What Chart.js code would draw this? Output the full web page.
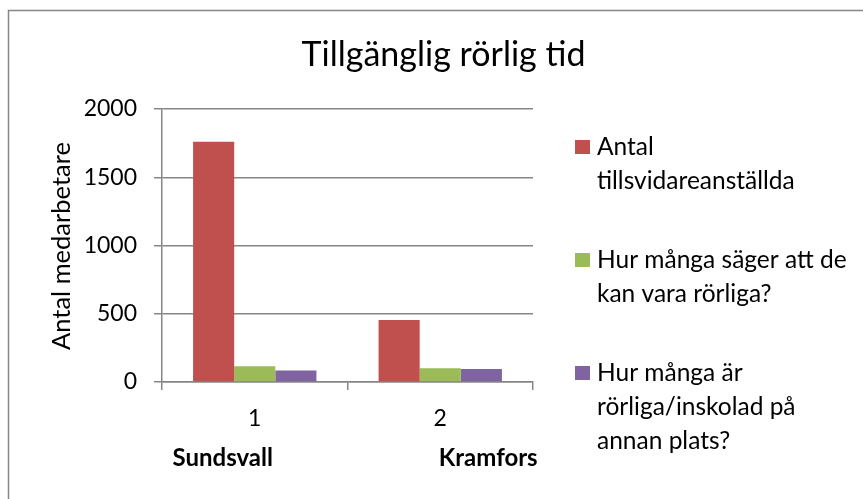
<!DOCTYPE html>
<html>
<head>
<meta charset="utf-8">
<script src="https://cdn.jsdelivr.net/npm/chart.js"></script>
<style>
  html, body { margin: 0; padding: 0; background: #fff; }
  #wrap { position: relative; width: 863px; height: 499px; }
</style>
</head>
<body>
<div id="wrap"><canvas id="chart"></canvas></div>
<script>
const chartTitle = 'Tillgänglig rörlig tid';
const axisTitle = 'Antal medarbetare';
const categories = ['1', '2'];
const places = ['Sundsvall', 'Kramfors'];
const seriesNames = [
    ['Antal', 'tillsvidareanställda'],
    ['Hur många säger att de', 'kan vara rörliga?'],
    ['Hur många är', 'rörliga/inskolad på', 'annan plats?']
];
const tillsvidare = [1760, 455];
const kanVaraRorliga = [115, 100];
const arRorliga = [85, 95];
const yTicks = [0, 500, 1000, 1500, 2000];

const colors = ['#C0504D', '#9BBB59', '#8064A2'];
const gridColor = '#868686';

// title, axis title, place names, wrapped legend and the frame
const decor = {
    id: 'decor',
    beforeDraw(chart) {
        const c = chart.ctx;
        c.save();
        c.strokeStyle = gridColor;
        c.lineWidth = 1.5;
        c.beginPath();
        c.moveTo(chart.width, 10.5);
        c.lineTo(8.5, 10.5);
        c.lineTo(8.5, chart.height);
        c.stroke();
        c.restore();
    },
    afterDraw(chart) {
        const c = chart.ctx;
        const area = chart.chartArea;
        const x = chart.scales.x;
        c.save();
        c.fillStyle = '#000';
        c.textBaseline = 'middle';
        c.textAlign = 'center';
        c.font = '34px Lato';
        c.fillText(chartTitle, chart.width / 2 + 12, 55);

        c.save();
        c.font = '25.5px Lato';
        c.translate(62, area.top + 137);
        c.rotate(-Math.PI / 2);
        c.fillText(axisTitle, 0, 0);
        c.restore();

        c.font = 'bold 24px Lato';
        c.fillText(places[0], x.getPixelForValue(0) - 32, 458);
        c.fillText(places[1], x.getPixelForValue(1) + 48, 458);

        c.font = '24.5px Lato';
        c.textAlign = 'left';
        chart.data.datasets.forEach((ds, i) => {
            const top = area.top + 38 + i * 113;
            c.fillStyle = ds.backgroundColor;
            c.fillRect(area.right + 42, top - 7, 15, 14);
            c.fillStyle = '#000';
            seriesNames[i].forEach((line, j) => c.fillText(line, area.right + 64, top + j * 34));
        });
        c.restore();
    }
};

new Chart(document.getElementById('chart'), {
    type: 'bar',
    data: {
        labels: categories,
        datasets: [
            { label: seriesNames[0].join(' '), data: tillsvidare, backgroundColor: colors[0] },
            { label: seriesNames[1].join(' '), data: kanVaraRorliga, backgroundColor: colors[1] },
            { label: seriesNames[2].join(' '), data: arRorliga, backgroundColor: colors[2] }
        ]
    },
    options: {
        responsive: true,
        maintainAspectRatio: false,
        animation: false,
        layout: { padding: { top: 109, right: 330, left: 0, bottom: 0 } },
        plugins: {
            legend: { display: false },
            title: { display: false },
            tooltip: { enabled: false }
        },
        datasets: { bar: { barPercentage: 1, categoryPercentage: 0.665 } },
        scales: {
            x: {
                grid: { offset: true, drawOnChartArea: false, color: gridColor, tickLength: 8, lineWidth: 1.5 },
                border: { color: gridColor, width: 1.5 },
                ticks: { color: '#000', font: { family: 'Lato', size: 23 }, padding: 15 },
                afterFit(scale) { scale.height = 117; }
            },
            y: {
                min: 0,
                max: 2000,
                afterBuildTicks(scale) { scale.ticks = yTicks.map(v => ({ value: v })); },
                grid: { color: gridColor, tickLength: 8, lineWidth: 1.5 },
                border: { color: gridColor, width: 1.5 },
                ticks: {
                    color: '#000',
                    font: { family: 'Lato', size: 23 },
                    padding: 17,
                    callback: v => String(v)
                },
                title: { display: false },
                afterFit(scale) { scale.width = 162; }
            }
        }
    },
    plugins: [decor]
});
</script>
</body>
</html>
